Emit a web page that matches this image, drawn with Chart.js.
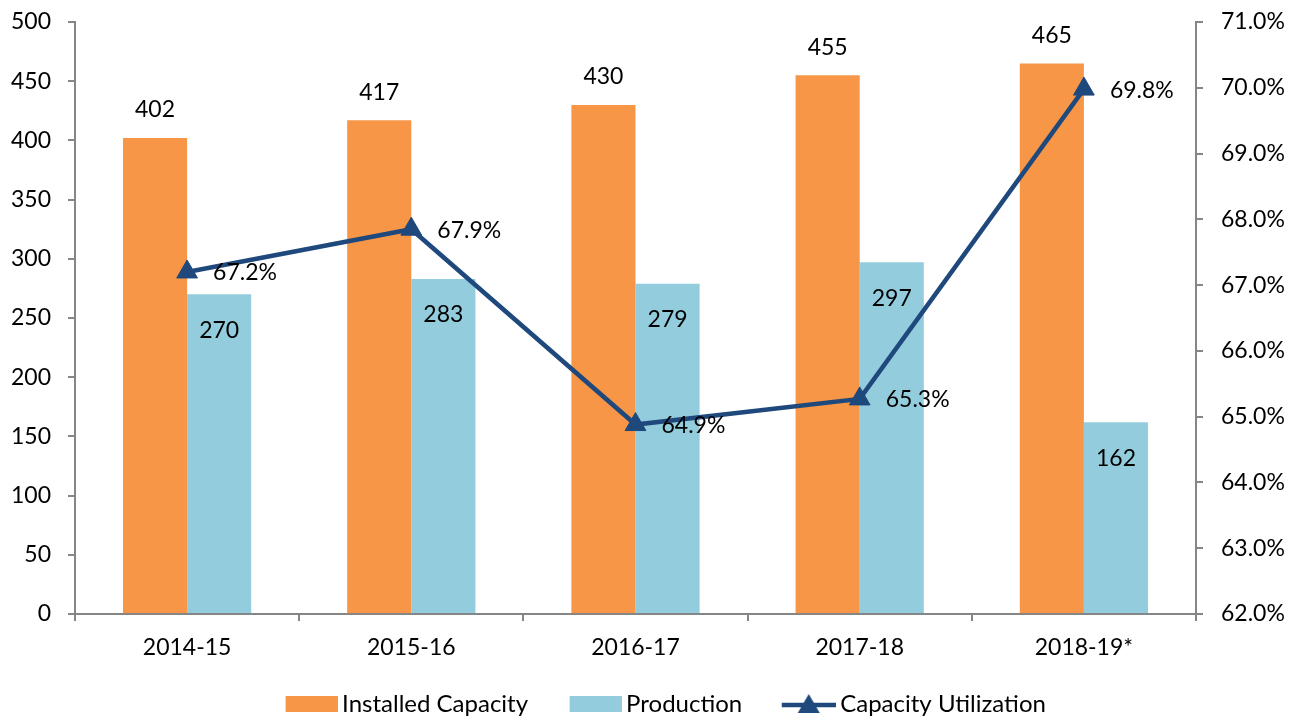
<!DOCTYPE html>
<html>
<head>
<meta charset="utf-8">
<script src="https://cdn.jsdelivr.net/npm/chart.js@4.4.0/dist/chart.umd.min.js"></script>
<style>
  html, body { margin: 0; padding: 0; background: #fff; }
  #wrap { width: 1300px; height: 718px; }
</style>
</head>
<body>
<div id="wrap"><canvas id="capChart" width="1300" height="718"></canvas></div>
<script>
const years = ["2014-15", "2015-16", "2016-17", "2017-18", "2018-19*"];
const installed = [402, 417, 430, 455, 465];
const production = [270, 283, 279, 297, 162];
// line positions as drawn in the picture (last point sits on the 70% tick)
const utilization = [67.2, 67.85, 64.88, 65.27, 69.98];
// printed labels of the line
const utilLabels = ["67.2%", "67.9%", "64.9%", "65.3%", "69.8%"];

const orange = "#F79646";
const blue = "#93CDDD";
const navy = "#1F497D";
const axisGrey = "#868686";
const fontFam = "Lato, 'Noto Sans', sans-serif";

// legend markers drawn to small canvases, marker sits at the right end
const MARK_W = 91;
function swatch(color) {
  const c = document.createElement("canvas");
  c.width = MARK_W; c.height = 16;
  const g = c.getContext("2d");
  g.fillStyle = color;
  g.fillRect(MARK_W - 52, 0, 52, 16);
  return c;
}
function lineSwatch() {
  const c = document.createElement("canvas");
  c.width = MARK_W; c.height = 22;
  const g = c.getContext("2d");
  const x0 = MARK_W - 54;
  g.strokeStyle = navy;
  g.lineWidth = 4.5;
  g.beginPath(); g.moveTo(x0, 12); g.lineTo(MARK_W, 12); g.stroke();
  g.fillStyle = navy;
  g.beginPath(); g.moveTo(x0 + 27, 1); g.lineTo(x0 + 38, 20); g.lineTo(x0 + 16, 20); g.closePath(); g.fill();
  return c;
}
const markers = [swatch(orange), swatch(blue), lineSwatch()];

// value labels
const valueLabels = {
  id: "valueLabels",
  afterDatasetsDraw(chart) {
    const ctx = chart.ctx;
    ctx.save();
    ctx.font = "23px " + fontFam;
    ctx.fillStyle = "#000";
    ctx.textBaseline = "middle";
    chart.getDatasetMeta(0).data.forEach((bar, i) => {
      ctx.textAlign = "center";
      ctx.fillText(installed[i], bar.x, bar.y - 28);
    });
    chart.getDatasetMeta(1).data.forEach((bar, i) => {
      ctx.textAlign = "center";
      ctx.fillText(production[i], bar.x, bar.y + 36);
    });
    chart.getDatasetMeta(2).data.forEach((pt, i) => {
      ctx.textAlign = "left";
      ctx.fillText(utilLabels[i], pt.x + 26, pt.y + 1);
    });
    ctx.restore();
  }
};

const data = {
  labels: years,
  datasets: [
    {
      label: "Installed Capacity",
      data: installed,
      backgroundColor: orange,
      yAxisID: "y",
      order: 1,
    },
    {
      label: "Production",
      data: production,
      backgroundColor: blue,
      yAxisID: "y",
      order: 1,
    },
    {
      type: "line",
      label: "Capacity Utilization",
      data: utilization,
      yAxisID: "y1",
      borderColor: navy,
      backgroundColor: navy,
      borderWidth: 4.5,
      pointStyle: "triangle",
      pointRadius: 12,
      pointHoverRadius: 12,
      pointBorderWidth: 1,
      pointBackgroundColor: navy,
      pointBorderColor: navy,
      tension: 0,
      order: 0,
    },
  ],
};

const config = {
  type: "bar",
  data: data,
  plugins: [valueLabels],
  options: {
    responsive: false,
    animation: false,
    maintainAspectRatio: false,
    layout: { padding: { top: 22, left: 0, right: 0, bottom: -8 } },
    datasets: {
      bar: { categoryPercentage: 0.572, barPercentage: 1.0 }
    },
    plugins: {
      tooltip: { enabled: false },
      legend: {
        position: "bottom",
        labels: {
          usePointStyle: true,
          pointStyleWidth: MARK_W - 15,
          color: "#000",
          padding: 10,
          font: { family: fontFam, size: 24 },
          generateLabels(chart) {
            return chart.data.datasets.map((ds, i) => ({
              text: ds.label,
              datasetIndex: i,
              pointStyle: markers[i],
              fillStyle: ds.backgroundColor,
              strokeStyle: ds.backgroundColor,
              lineWidth: 0,
              hidden: false,
            }));
          }
        }
      }
    },
    scales: {
      x: {
        grid: { drawOnChartArea: false, drawTicks: true, tickLength: 7, color: axisGrey, lineWidth: 2, offset: true },
        border: { color: axisGrey, width: 2 },
        ticks: { color: "#000", font: { family: fontFam, size: 23 }, padding: 13 },
        afterFit(scale) { scale.height = 68; }
      },
      y: {
        position: "left",
        min: 0,
        max: 500,
        ticks: { stepSize: 50, color: "#000", font: { family: fontFam, size: 23 }, padding: 17 },
        grid: { drawOnChartArea: false, drawTicks: true, tickLength: 7, color: axisGrey, lineWidth: 2 },
        border: { color: axisGrey, width: 2 },
        afterFit(scale) { scale.width = 75; scale.paddingTop = 12; scale.paddingBottom = 0; }
      },
      y1: {
        position: "right",
        min: 62,
        max: 71,
        ticks: {
          stepSize: 1,
          color: "#000",
          font: { family: fontFam, size: 23 },
          padding: 18,
          callback: v => v.toFixed(1) + "%"
        },
        grid: { drawOnChartArea: false, drawTicks: true, tickLength: 7, color: axisGrey, lineWidth: 2 },
        border: { color: axisGrey, width: 2 },
        afterFit(scale) { scale.width = 104; scale.paddingTop = 12; scale.paddingBottom = 0; }
      }
    }
  }
};

let capChart = new Chart(document.getElementById("capChart"), config);
</script>
</body>
</html>
